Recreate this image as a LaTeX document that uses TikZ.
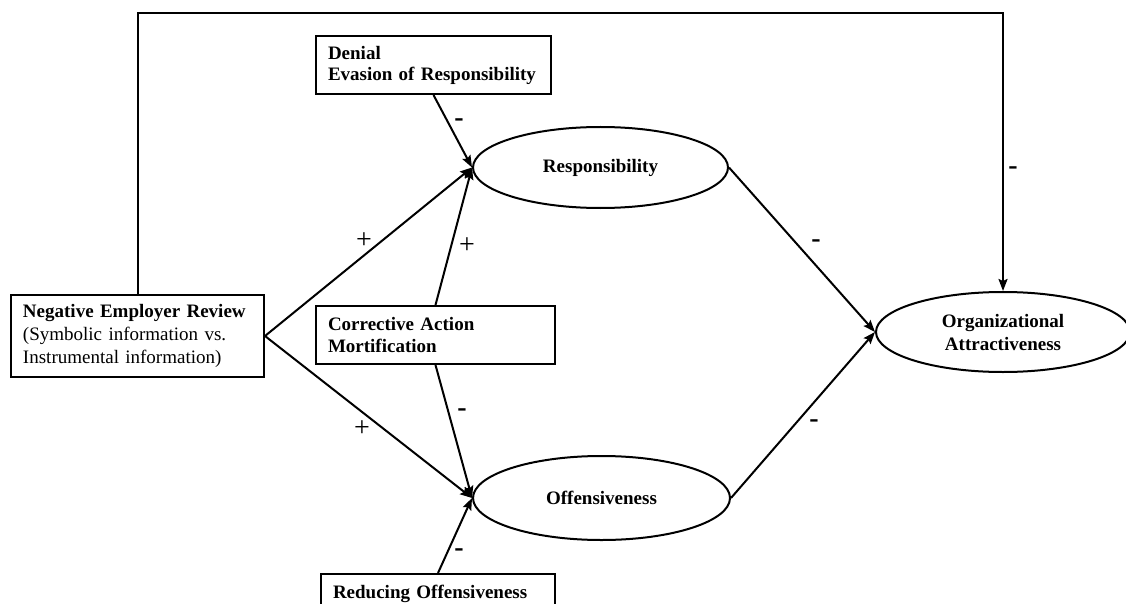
\documentclass[tikz,border=0pt]{standalone}
\usepackage{fontspec}
\setmainfont{Liberation Serif}
\usetikzlibrary{calc,arrows.meta,shapes.geometric}

\tikzset{
  txt/.style={font=\fontsize{19}{23}\selectfont},
  box/.style={txt,draw,line width=2pt,rectangle,align=left,inner xsep=12pt},
  latent/.style={txt,draw,line width=2pt,ellipse,inner sep=0pt,align=center,font=\fontsize{19}{23}\selectfont\bfseries},
  effect/.style={line width=2pt,-{Stealth[length=12pt,width=9pt,inset=2pt]}},
  minussign/.style={font=\fontsize{28}{28}\selectfont\bfseries,inner sep=0pt},
  plussign/.style={font=\fontsize{28}{28}\selectfont,inner sep=0pt}
}

\begin{document}
\begin{tikzpicture}[x=1pt,y=-1pt]
            % page
            \clip (0,0) rectangle (1126,604);
            % coordinates
            \coordinate (corner) at (1003,13); % top right bend
            % boxes
            \node[box,text width=229pt,minimum height=82pt] (review) at (137.5,336)
                {\textbf{Negative Employer Review}\\(Symbolic information vs.\\Instrumental information)};
            \node[box,font=\fontsize{19}{21}\selectfont\bfseries,text width=211pt,minimum height=58pt] (denial) at (433.5,65)
                {Denial\\Evasion of Responsibility};
            \node[box,font=\fontsize{19}{22}\selectfont\bfseries,text width=215pt,minimum height=58pt] (corrective) at (435.5,335)
                {Corrective Action\\Mortification};
            \node[box,font=\fontsize{19}{21}\selectfont\bfseries,text width=210pt,anchor=north,inner ysep=10pt,text height=14pt,text depth=30pt] (reducing) at (438,573)
                {Reducing Offensiveness};
            % ellipses
            \node[latent,minimum width=255pt,minimum height=81pt] (resp) at (600.5,167.5) {Responsibility};
            \node[latent,minimum width=257pt,minimum height=84pt] (offens) at (601.5,498) {Offensiveness};
            \node[latent,minimum width=254pt,minimum height=80pt] (attract) at (1003,332) {Organizational\\Attractiveness};
            % paths
            \draw[effect] (review.north) |- (corner) -- (attract.north);
            \draw[effect] (review.east) -- (resp.west);
            \draw[effect] (review.east) -- (offens.west);
            \draw[effect] (denial.south) -- (resp.west);
            \draw[effect] (corrective.north) -- (resp.west);
            \draw[effect] (corrective.south) -- (offens.west);
            \draw[effect] (reducing.north) -- (offens.west);
            \draw[effect] (resp.east) -- (attract.west);
            \draw[effect] (offens.east) -- (attract.west);
            % signs
            \node[minussign] (s1) at (1013,171) {-};
            \node[minussign] (s2) at (459,123) {-};
            \node[plussign] (s3) at (364,241) {+};
            \node[plussign] (s4) at (467,246) {+};
            \node[minussign] (s5) at (462,413) {-};
            \node[plussign] (s6) at (362,429) {+};
            \node[minussign] (s7) at (459,553) {-};
            \node[minussign] (s8) at (816,244) {-};
            \node[minussign] (s9) at (814,424) {-};
\end{tikzpicture}
\end{document}
